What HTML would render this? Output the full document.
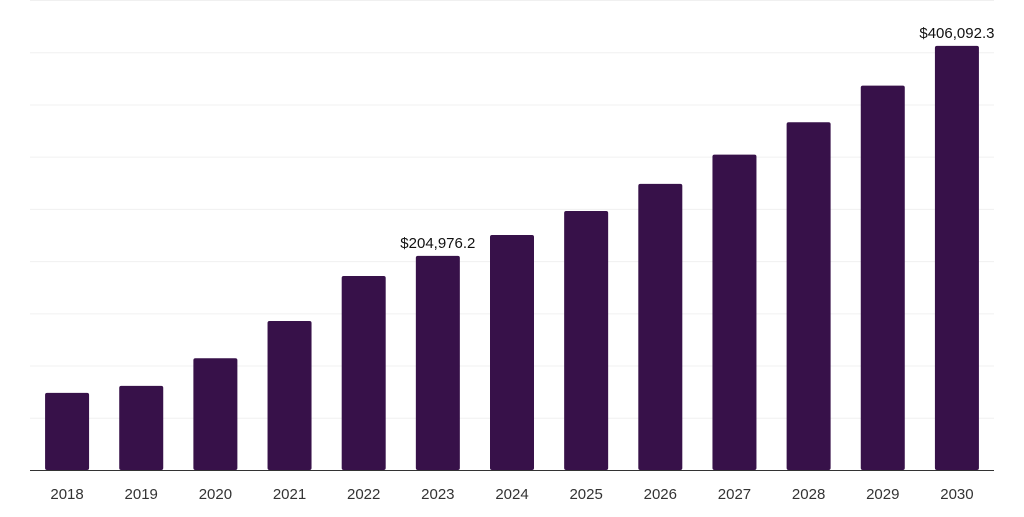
<!DOCTYPE html>
<html><head><meta charset="utf-8"><style>
body{margin:0;background:#fff;width:1024px;height:512px;overflow:hidden;font-family:"Liberation Sans",sans-serif}
</style></head><body>
<svg id="chart" width="1024" height="512" xmlns="http://www.w3.org/2000/svg"></svg>
<script>
const categories=["2018","2019","2020","2021","2022","2023","2024","2025","2026","2027","2028","2029","2030"];
const values=[73800,80500,107000,142700,185800,204976.2,225000,248000,274000,302000,333000,368000,406092.3];
const labelValues=["","","","","","$204,976.2","","","","","","","$406,092.3"];
const gridTicks=[0,50000,100000,150000,200000,250000,300000,350000,400000,450000];
const svg=document.getElementById('chart');
const NS='http://www.w3.org/2000/svg';
const x0=30,x1=994,y0=470,yTop=0,maxV=450000;
const band=(x1-x0)/categories.length;
const bw=44;
const y=v=>y0-(v/maxV)*(y0-yTop);
const xc=i=>x0+band*(i+0.5);
function mk(t,a){const e=document.createElementNS(NS,t);for(const k in a)e.setAttribute(k,a[k]);svg.appendChild(e);return e;}
gridTicks.forEach(t=>{if(t===0)return;
const g=mk('line',{x1:x0,x2:x1,y1:y(t)+0.5,y2:y(t)+0.5,stroke:'#f0f0f0','stroke-width':1});

});
values.forEach((v,i)=>{
const r=mk('rect',{x:xc(i)-bw/2,y:y(v),width:bw,height:y0-y(v),fill:'#371149',rx:2});


const t=mk('text',{x:xc(i),y:499,'text-anchor':'middle','font-size':15,fill:'#333'});
t.textContent=categories[i];


if(labelValues[i]){
const l=mk('text',{x:xc(i),y:y(v)-8,'text-anchor':'middle','font-size':15,fill:'#111'});
l.textContent=labelValues[i];

}
});
const ax=mk('line',{x1:x0,x2:x1,y1:y0+0.5,y2:y0+0.5,stroke:'#333','stroke-width':1});


</script>
</body></html>
